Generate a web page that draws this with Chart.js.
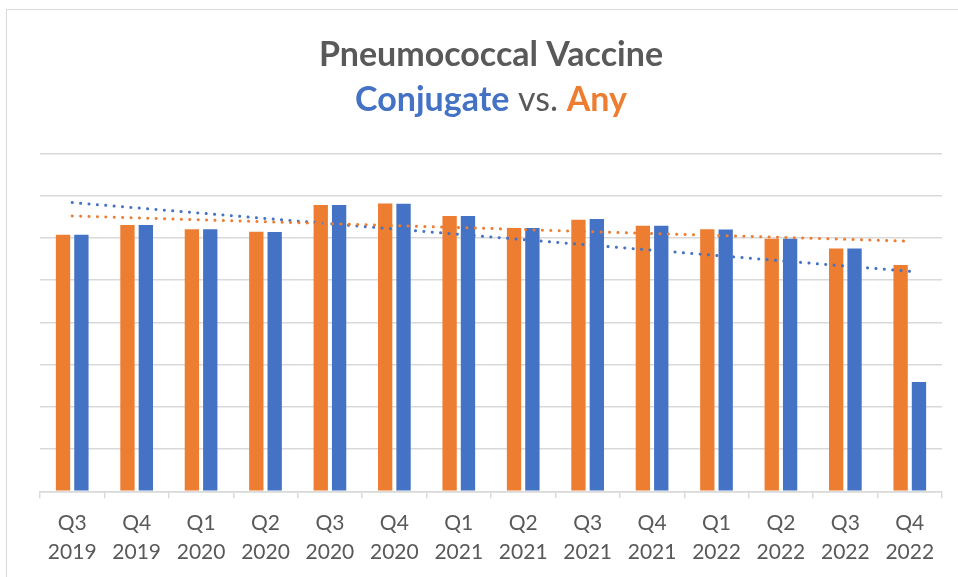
<!DOCTYPE html>
<html>
<head>
<meta charset="utf-8">
<script src="https://cdn.jsdelivr.net/npm/chart.js@4"></script>
<style>
  html, body { margin: 0; padding: 0; background: #fff; }
  #frame { position: absolute; left: 6px; top: 9px; width: 960px; height: 580px; border: 1px solid #d9d9d9; }
  #wrap { position: absolute; left: 0; top: 0; width: 958px; height: 577px; }
</style>
</head>
<body>
<div id="frame"></div>
<div id="wrap"><canvas id="vaxChart"></canvas></div>
<script>
/* Pneumococcal vaccine: conjugate vs any */

const quarters = [
    ['Q3', '2019'], ['Q4', '2019'], ['Q1', '2020'], ['Q2', '2020'],
    ['Q3', '2020'], ['Q4', '2020'], ['Q1', '2021'], ['Q2', '2021'],
    ['Q3', '2021'], ['Q4', '2021'], ['Q1', '2022'], ['Q2', '2022'],
    ['Q3', '2022'], ['Q4', '2022']
];
const anyValues = [60.8, 63.1, 62.1, 61.5, 67.8, 68.2, 65.2, 62.4, 64.3, 62.9, 62.1, 59.8, 57.5, 53.6];
const conjugateValues = [60.8, 63.1, 62.1, 61.4, 67.8, 68.1, 65.2, 62.4, 64.5, 62.9, 62.0, 59.8, 57.5, 25.9];

const ORANGE = '#ED7D31';
const BLUE = '#4472C4';
const GREY = '#595959';

// least squares trend, like the spreadsheet's linear trendline
function linearTrend(values) {
    const n = values.length;
    let sx = 0, sy = 0, sxy = 0, sxx = 0;
    values.forEach((v, i) => { sx += i; sy += v; sxy += i * v; sxx += i * i; });
    const slope = (n * sxy - sx * sy) / (n * sxx - sx * sx);
    const icpt = (sy - slope * sx) / n;
    return values.map((v, i) => icpt + slope * i);
}

// draws the second title line in three colours over the subtitle box
const twoToneSubtitle = {
    id: 'twoToneSubtitle',
    afterDraw(chart) {
        const box = chart.boxes.find(b => b.options && b.options.text === 'Conjugate vs. Any');
        if (!box) return;
        const ctx = chart.ctx;
        const parts = [
            { text: 'Conjugate', color: BLUE, weight: 'bold' },
            { text: ' vs. ', color: GREY, weight: 'normal' },
            { text: 'Any', color: ORANGE, weight: 'bold' }
        ];
        const size = 34;
        ctx.save();
        ctx.textBaseline = 'middle';
        ctx.textAlign = 'left';
        let total = 0;
        parts.forEach(p => {
            ctx.font = p.weight + ' ' + size + 'px Lato';
            p.w = ctx.measureText(p.text).width;
            total += p.w;
        });
        let x = (box.left + box.right) / 2 - total / 2;
        const y = (box.top + box.bottom) / 2 + (box.options.padding.top - box.options.padding.bottom) / 2;
        parts.forEach(p => {
            ctx.font = p.weight + ' ' + size + 'px Lato';
            ctx.fillStyle = p.color;
            ctx.fillText(p.text, x, y);
            x += p.w;
        });
        ctx.restore();
    }
};

const ctx = document.getElementById('vaxChart');
new Chart(ctx, {
    type: 'bar',
    data: {
        labels: quarters,
        datasets: [
            {
                type: 'line',
                label: 'Any trend',
                data: linearTrend(anyValues),
                borderColor: ORANGE,
                borderWidth: 3,
                borderDash: [0.1, 8.3],
                borderCapStyle: 'round',
                pointRadius: 0,
                fill: false,
                order: 0
            },
            {
                type: 'line',
                label: 'Conjugate trend',
                data: linearTrend(conjugateValues),
                borderColor: BLUE,
                borderWidth: 3,
                borderDash: [0.1, 8.3],
                borderCapStyle: 'round',
                pointRadius: 0,
                fill: false,
                order: 0
            },
            {
                label: 'Any',
                data: anyValues,
                backgroundColor: ORANGE,
                categoryPercentage: 0.57,
                barPercentage: 0.78,
                order: 1
            },
            {
                label: 'Conjugate',
                data: conjugateValues,
                backgroundColor: BLUE,
                categoryPercentage: 0.57,
                barPercentage: 0.78,
                order: 1
            }
        ]
    },
    options: {
        responsive: true,
        maintainAspectRatio: false,
        animation: false,
        layout: { padding: { left: 40, right: 16, top: 0, bottom: 0 } },
        plugins: {
            legend: { display: false },
            tooltip: { enabled: false },
            title: {
                display: true,
                text: 'Pneumococcal Vaccine',
                color: GREY,
                font: { family: 'Lato', size: 34, weight: 'bold' },
                padding: { top: 35, bottom: 0 }
            },
            subtitle: {
                display: true,
                text: 'Conjugate vs. Any',
                color: 'rgba(0,0,0,0)',
                font: { family: 'Lato', size: 34, weight: 'bold' },
                padding: { top: 4, bottom: 33 }
            }
        },
        scales: {
            x: {
                grid: {
                    offset: true,
                    drawOnChartArea: false,
                    drawTicks: true,
                    tickLength: 7,
                    color: '#d9d9d9',
                    lineWidth: 1.5
                },
                border: { color: '#d9d9d9', width: 1.5 },
                ticks: {
                    color: GREY,
                    font: { family: 'Lato', size: 21, lineHeight: 1.35 },
                    padding: 11,
                    maxRotation: 0,
                    autoSkip: false
                }
            },
            y: {
                min: 0,
                max: 80,
                ticks: { display: false, stepSize: 10 },
                border: { display: false },
                grid: { color: '#d9d9d9', lineWidth: 1.5, drawTicks: false }
            }
        }
    },
    plugins: [twoToneSubtitle]
});
</script>
</body>
</html>
